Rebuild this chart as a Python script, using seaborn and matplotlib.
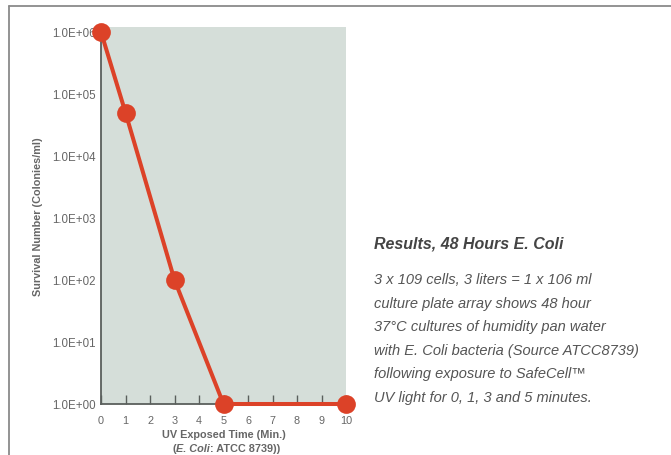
import matplotlib
matplotlib.use("Agg")
import matplotlib.pyplot as plt
from matplotlib.lines import Line2D
from matplotlib.ticker import FixedLocator, FixedFormatter
import pandas as pd
import seaborn as sns

# Data
minutes = [0, 1, 3, 5, 10]
survivors = [1.0e6, 5.0e4, 1.0e2, 1.0e0, 1.0e0]
y_ticks = [1e0, 1e1, 1e2, 1e3, 1e4, 1e5, 1e6]
y_tick_labels = ["1.0E+00", "1.0E+01", "1.0E+02", "1.0E+03",
                 "1.0E+04", "1.0E+05", "1.0E+06"]
x_ticks = list(range(0, 11))

title = "Results, 48 Hours E. Coli"
body_lines = [
    "3 x 109 cells, 3 liters = 1 x 106 ml",
    "culture plate array shows 48 hour",
    "37°C cultures of humidity pan water",
    "with E. Coli bacteria (Source ATCC8739)",
    "following exposure to SafeCell™",
    "UV light for 0, 1, 3 and 5 minutes.",
]

df = pd.DataFrame({"minutes": minutes, "survivors": survivors})

sns.set_style("white")
plt.rcParams["font.family"] = ["Liberation Sans", "DejaVu Sans"]

RED = "#dc4228"
GREY_TXT = "#666666"
AXIS = "#5a5f5c"

fig = plt.figure(figsize=(6.71, 4.56), dpi=100)
ax = fig.add_axes([101 / 671, 51 / 456, 245 / 671, 377 / 456])
ax.set_facecolor("#d5ded9")

sns.lineplot(data=df, x="minutes", y="survivors", ax=ax, color=RED,
             linewidth=2.9, marker="o", markersize=13.5, markeredgewidth=0,
             clip_on=False, zorder=5)

ax.set_yscale("log")
ax.set_xlim(0, 10)
ax.set_ylim(1e0, 10 ** 6.08)
ax.yaxis.set_major_locator(FixedLocator(y_ticks))
ax.yaxis.set_major_formatter(FixedFormatter(y_tick_labels))
ax.yaxis.set_minor_locator(FixedLocator([]))
ax.set_xticks(x_ticks)

ax.tick_params(axis="y", length=0, pad=4, labelsize=8.3, labelcolor=GREY_TXT)
ax.tick_params(axis="x", direction="in", length=6.5, width=1, color=AXIS,
               pad=8, labelsize=7.8, labelcolor=GREY_TXT, bottom=True)

for side in ["top", "right"]:
    ax.spines[side].set_visible(False)
for side in ["left", "bottom"]:
    ax.spines[side].set_color(AXIS)
    ax.spines[side].set_linewidth(1.3)

ax.set_ylabel("Survival Number (Colonies/ml)", fontsize=7.8,
              fontweight="bold", color=GREY_TXT, labelpad=6)
ax.set_xlabel("UV Exposed Time (Min.)", fontsize=7.8, fontweight="bold",
              color=GREY_TXT, labelpad=3)

# second line of the x label, with the species name in bold italic
mid = fig.text(193 / 671, 1 - 452 / 456, "E. Coli", fontsize=7.8,
               fontweight="bold", fontstyle="italic", color=GREY_TXT,
               ha="center", va="baseline")
ax.annotate("(", xy=(0, 0), xycoords=mid, fontsize=7.8, fontweight="bold",
            color=GREY_TXT, ha="right", va="bottom")
ax.annotate(": ATCC 8739))", xy=(1, 0), xycoords=mid, fontsize=7.8,
            fontweight="bold", color=GREY_TXT, ha="left", va="bottom")

# outer frame
fig.add_artist(Line2D([9 / 671, 1], [1 - 7 / 456, 1 - 7 / 456],
                      transform=fig.transFigure, color="#8a8a8a", lw=1.3))
fig.add_artist(Line2D([9 / 671, 9 / 671], [0, 1 - 7 / 456],
                      transform=fig.transFigure, color="#8a8a8a", lw=1.3))

# side caption
fig.text(374 / 671, 1 - 249 / 456, title, fontsize=11.5, fontweight="bold",
         fontstyle="italic", color="#444444", va="baseline")
for i, line in enumerate(body_lines):
    fig.text(374 / 671, 1 - (284 + i * 23.6) / 456, line, fontsize=10.5,
             fontstyle="italic", color="#555555", va="baseline")

fig.savefig("out.png", dpi=100)
